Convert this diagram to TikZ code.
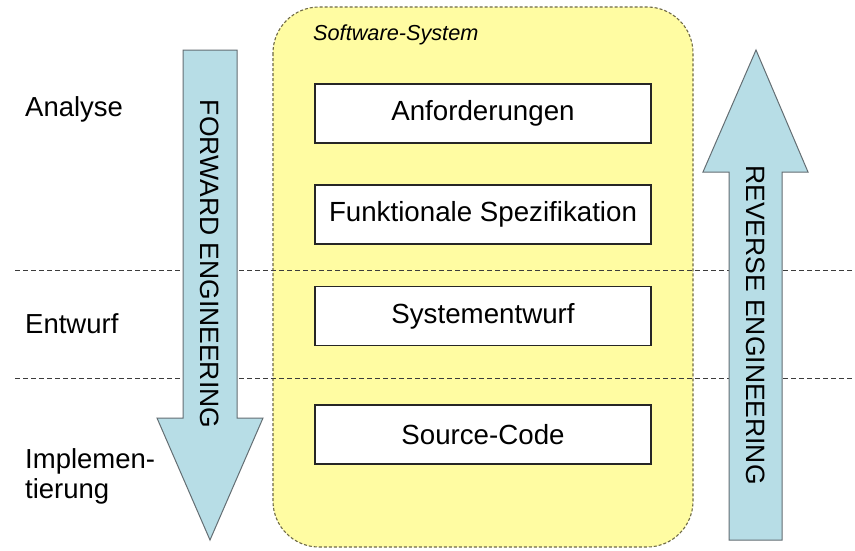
\documentclass[tikz,border=0pt]{standalone}
\usepackage{fontspec}
\setmainfont{Liberation Sans}
\definecolor{sysyellow}{RGB}{255,252,162}
\definecolor{sysborder}{RGB}{110,105,70}
\definecolor{arrowblue}{RGB}{183,221,230}
\definecolor{arrowborder}{RGB}{100,110,115}
\definecolor{sepgray}{RGB}{60,60,60}
\begin{document}
\begin{tikzpicture}[x=1pt,y=-1pt,
  systembox/.style={fill=sysyellow,draw=sysborder,line width=1.1pt,dash pattern=on 3pt off 2pt,rounded corners=46pt},
  layerbox/.style={draw=black!85,fill=white,line width=1.2pt,minimum width=336pt,minimum height=59pt,inner sep=0pt,font=\fontsize{27.7}{30}\selectfont},
  separator/.style={draw=sepgray,line width=0.9pt,dash pattern=on 5pt off 3pt},
  bigarrow/.style={fill=arrowblue,draw=arrowborder,line width=1pt,line join=miter},
  arrowtext/.style={rotate=-90,inner sep=0pt,font=\fontsize{26.5}{30}\selectfont},
  phaselabel/.style={anchor=base west,inner sep=0pt,align=left,font=\fontsize{27.5}{30}\selectfont},
  systitle/.style={anchor=base west,inner sep=0pt,font=\fontsize{21.7}{24}\selectfont\itshape}]
\useasboundingbox (0,0) rectangle (855,550);
\fill[white] (0,0) rectangle (855,550);
% software system container
\path[systembox] (273,7) rectangle (693,547);
\node[systitle] (systitle) at (313,40) {Software-System};
% phase separators
\coordinate (sepAL) at (15,270);
\coordinate (sepAR) at (855,270);
\coordinate (sepBL) at (15,378);
\coordinate (sepBR) at (855,378);
\draw[separator] (sepAL) -- (sepAR);
\draw[separator] (sepBL) -- (sepBR);
% layer boxes
\node[layerbox] (anf) at (483,113.5) {Anforderungen};
\node[layerbox] (spec) at (483,214.5) {Funktionale Spezifikation};
\node[layerbox] (sysent) at (483,316) {Systementwurf};
\node[layerbox] (src) at (483,434.5) {Source-Code};
% forward engineering arrow
\path[bigarrow] (183,50) -- (237,50) -- (237,418) -- (263,418) -- (210,540) -- (157,418) -- (183,418) -- cycle;
\node[arrowtext] (fwd) at (210,264) {FORWARD ENGINEERING};
% reverse engineering arrow
\path[bigarrow] (729,540) -- (782,540) -- (782,172) -- (808,172) -- (756,50) -- (703,172) -- (729,172) -- cycle;
\node[arrowtext] (rev) at (755.5,325) {REVERSE ENGINEERING};
% phase labels
\node[phaselabel] (analyse) at (25,116) {Analyse};
\node[phaselabel] (entwurf) at (25,333) {Entwurf};
\node[phaselabel,anchor=north west] (impl) at (25,448) {Implemen-\\tierung};
\end{tikzpicture}
\end{document}
